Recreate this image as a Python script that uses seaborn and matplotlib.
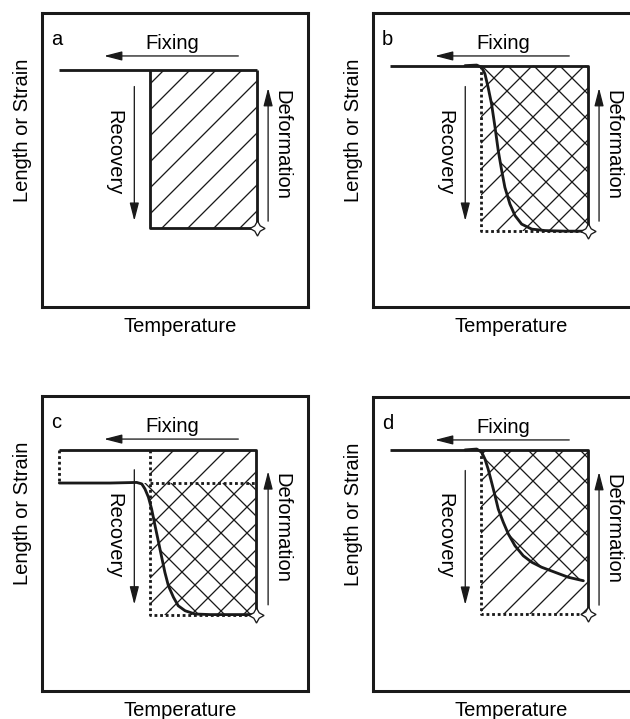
import numpy as np
import pandas as pd
import seaborn as sns
import matplotlib.pyplot as plt

# Схема: каждый блок 0..10 по обеим осям
panel_names = ['a', 'b', 'c', 'd']
x_start = 0.65
x_left = 4.06
x_right = [8.08, 8.08, 8.04, 8.08]
top_y = [8.06, 8.21, 8.17, 8.20]
bottom_y = [2.69, 2.58, 2.59, 2.62]
mid_y_c = 7.05

# кривые восстановления
curve_b_x = [3.46, 3.90, 4.09, 4.21, 4.33, 4.46, 4.59, 4.71, 4.84, 4.96, 5.15, 5.34, 5.59, 5.97, 6.47, 7.22, 8.08]
curve_b_y = [8.21, 8.23, 8.15, 7.93, 7.47, 6.90, 6.11, 5.32, 4.64, 4.07, 3.50, 3.11, 2.82, 2.65, 2.60, 2.58, 2.58]

curve_c_x = [0.65, 2.56, 3.56, 3.75, 3.87, 4.00, 4.12, 4.25, 4.37, 4.50, 4.62, 4.75, 4.94, 5.12, 5.38, 5.75, 6.32, 8.04]
curve_c_y = [7.05, 7.05, 7.07, 7.02, 6.85, 6.57, 6.17, 5.60, 5.09, 4.53, 4.02, 3.57, 3.18, 2.89, 2.72, 2.61, 2.59, 2.59]

curve_d_x = [3.46, 3.90, 4.09, 4.21, 4.33, 4.46, 4.59, 4.71, 4.90, 5.09, 5.34, 5.65, 5.97, 6.34, 6.84, 7.34, 7.91]
curve_d_y = [8.20, 8.23, 8.12, 7.89, 7.55, 7.10, 6.64, 6.19, 5.74, 5.34, 4.94, 4.60, 4.38, 4.21, 4.04, 3.87, 3.75]

DPI = 156
FS = 9.3
LW = 1.3
sns.set_theme(style='white')
plt.rcParams['font.family'] = ['Liberation Sans', 'DejaVu Sans']
plt.rcParams['text.color'] = 'black'
plt.rcParams['hatch.linewidth'] = 0.6

fig = plt.figure(figsize=(630 / DPI, 720 / DPI), dpi=DPI)
boxes = [[0.0667, 0.5722, 0.4222, 0.4083],
         [0.592, 0.5722, 0.4222, 0.4083],
         [0.0667, 0.0389, 0.4222, 0.4097],
         [0.592, 0.0389, 0.4222, 0.4083]]

dotted = dict(color='k', lw=LW, ls=(0, (1, 1)), zorder=3)
solid = dict(color='k', lw=LW, zorder=4, solid_capstyle='butt')


def hatch_rect(ax, x0, x1, y0, y1, pattern):
    ax.fill_between([x0, x1], [y0, y0], [y1, y1], facecolor='none',
                    edgecolor='k', linewidth=0, hatch=pattern, zorder=1)


for i, name in enumerate(panel_names):
    ax = fig.add_axes(boxes[i])
    ax.set_xlim(0, 10)
    ax.set_ylim(0, 10)
    ax.set_xticks([])
    ax.set_yticks([])
    for sp in ax.spines.values():
        sp.set_color('k')
        sp.set_linewidth(1.4)

    xr, yt, yb = x_right[i], top_y[i], bottom_y[i]
    hatch_rect(ax, x_left, xr, yb, yt, '//')

    if name == 'a':
        ax.plot([x_start, xr], [yt, yt], **solid)
        ax.plot([x_left, x_left, xr, xr], [yt, yb, yb, yt], **solid)
    elif name in ('b', 'd'):
        cx = curve_b_x if name == 'b' else curve_d_x
        cy = curve_b_y if name == 'b' else curve_d_y
        fx = cx + [xr] if name == 'd' else cx
        fy = cy + [cy[-1]] if name == 'd' else cy
        ax.fill_between(fx, fy, yt, facecolor='none', edgecolor='k',
                        linewidth=0, hatch='\\\\', zorder=1)
        ax.plot([x_left, x_left, xr], [yt, yb, yb], **dotted)
        ax.plot([x_start, xr, xr], [yt, yt, yb], **solid)
        sns.lineplot(x=cx, y=cy, sort=False, estimator=None, ax=ax,
                     color='k', lw=LW, zorder=5)
    else:
        ax.fill_between(curve_c_x[2:], curve_c_y[2:], mid_y_c, facecolor='none',
                        edgecolor='k', linewidth=0, hatch='\\\\', zorder=1)
        ax.plot([x_start, x_start], [yt, mid_y_c], **dotted)
        ax.plot([x_left, x_left, xr], [yt, yb, yb], **dotted)
        ax.plot([x_left, xr], [mid_y_c, mid_y_c], **dotted)
        ax.plot([x_start, xr, xr], [yt, yt, yb], **solid)
        sns.lineplot(x=curve_c_x, y=curve_c_y, sort=False, estimator=None, ax=ax,
                     color='k', lw=LW, zorder=5)

    # маркер-звёздочка в углу
    ax.plot([xr], [yb], marker=(4, 1, 0), ms=7, mfc='white', mec='k',
            mew=0.6, zorder=6, clip_on=False)

    arrow = dict(arrowstyle='-|>,head_length=0.7,head_width=0.18', color='k',
                 lw=0.6, mutation_scale=10, shrinkA=0, shrinkB=0)
    ax.annotate('', xy=(2.33, 8.54), xytext=(7.38, 8.54), arrowprops=arrow)
    ax.annotate('', xy=(3.47, 2.93), xytext=(3.47, 7.5), arrowprops=arrow)
    ax.annotate('', xy=(8.5, 7.45), xytext=(8.5, 2.92), arrowprops=arrow)

    ax.text(0.33, 8.95, name, fontsize=FS, ha='left', va='baseline')
    ax.text(4.9, 8.8, 'Fixing', fontsize=FS, ha='center', va='baseline')
    ax.text(2.7, 5.3, 'Recovery', fontsize=FS, rotation=-90, ha='center', va='center')
    ax.text(9.02, 5.56, 'Deformation', fontsize=FS, rotation=-90, ha='center', va='center')
    ax.text(-0.75, 6.05, 'Length or Strain', fontsize=FS, rotation=90,
            ha='center', va='center', clip_on=False)
    ax.text(5.19, -0.62, 'Temperature', fontsize=FS, ha='center', va='center',
            clip_on=False)

fig.savefig('out.png', dpi=DPI)
